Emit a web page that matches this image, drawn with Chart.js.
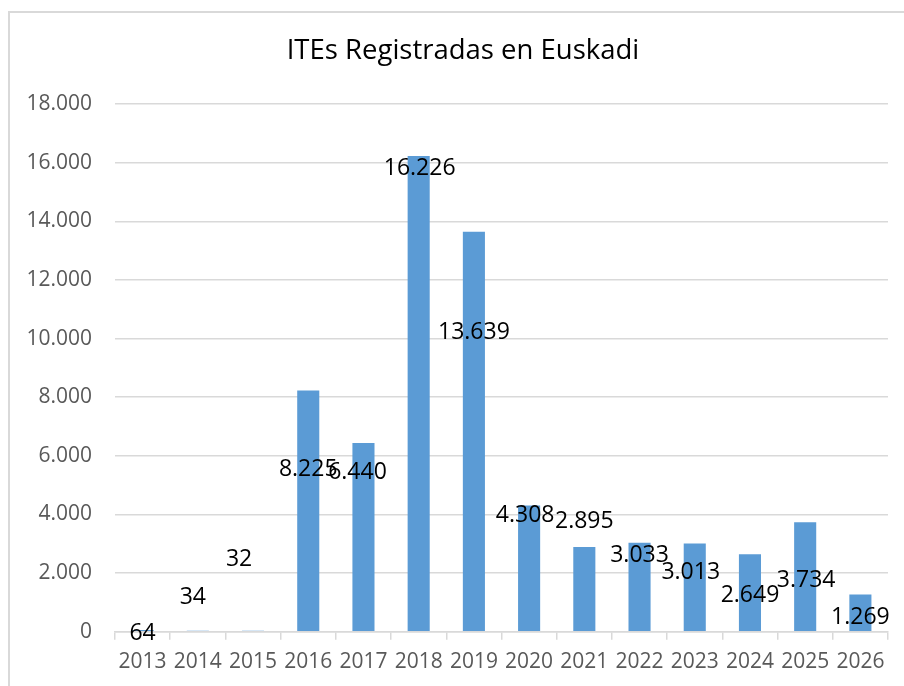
<!DOCTYPE html>
<html>
<head>
<meta charset="utf-8">
<title>ITEs Registradas en Euskadi</title>
<script src="https://cdn.jsdelivr.net/npm/chart.js@4"></script>
<style>
  html, body { margin: 0; padding: 0; background: #fff; }
  #wrap { position: relative; width: 904px; height: 686px; overflow: hidden; }
  #frame { position: absolute; left: 8px; top: 11px; width: 1000px; height: 1000px;
           border-left: 2px solid #d9d9d9; border-top: 2px solid #d9d9d9; }
  canvas { position: absolute; left: 0; top: 0; }
</style>
</head>
<body>
<div id="wrap">
  <div id="frame"></div>
  <canvas id="chart" width="904" height="686"></canvas>
</div>
<script>
const years = ['2013', '2014', '2015', '2016', '2017', '2018', '2019',
               '2020', '2021', '2022', '2023', '2024', '2025', '2026'];
const ites = [64, 34, 32, 8225, 6440, 16226, 13639, 4308, 2895, 3033, 3013, 2649, 3734, 1269];
const yTicks = [0, 2000, 4000, 6000, 8000, 10000, 12000, 14000, 16000, 18000];

// the value labels were dragged around by hand in the original, so keep
// where each one sits (in axis units) and a small sideways nudge in px
const labelAt = [0, 1230, 2530, 5600, 5500, 15850, 10250, 4030, 3825, 2665, 2085, 1300, 1810, 545];
const labelShift = [0, -5, -14, 0, -6, 1, 0, -4, 0, 0, -4, 0, 1, 0];

const FONT = '"Open Sans", sans-serif';
Chart.defaults.font.family = FONT;

// 16226 -> "16.226"
function fmt(v) {
    return String(v).replace(/\B(?=(\d{3})+(?!\d))/g, '.');
}

const valueLabels = {
    id: 'valueLabels',
    afterLayout(chart) {
        // the original title sits a bit right of the canvas centre
        chart.titleBlock.left += 19;
        chart.titleBlock.right += 19;
    },
    afterDatasetsDraw(chart) {
        const ctx = chart.ctx;
        const yScale = chart.scales.y;
        const bars = chart.getDatasetMeta(0).data;
        ctx.save();
        ctx.font = '23px ' + FONT;
        ctx.fillStyle = '#000';
        ctx.textAlign = 'center';
        ctx.textBaseline = 'alphabetic';
        bars.forEach(function (bar, i) {
            const y = yScale.getPixelForValue(labelAt[i]);
            ctx.fillText(fmt(ites[i]), bar.x + labelShift[i], y + 8);
        });
        ctx.restore();
    }
};

new Chart(document.getElementById('chart').getContext('2d'), {
    type: 'bar',
    data: {
        labels: years,
        datasets: [{
            label: 'ITEs',
            data: ites,
            backgroundColor: '#5b9bd5',
            borderWidth: 0,
            barPercentage: 0.4,
            categoryPercentage: 1
        }]
    },
    options: {
        responsive: false,
        animation: false,
        layout: { padding: { left: 0, right: 16, top: 0, bottom: 1 } },
        plugins: {
            legend: { display: false },
            tooltip: { enabled: false },
            title: {
                display: true,
                text: 'ITEs Registradas en Euskadi',
                color: '#000',
                font: { size: 27.5, weight: 'normal', family: FONT },
                padding: { top: 35, bottom: 36 }
            }
        },
        scales: {
            x: {
                grid: {
                    offset: true,
                    drawOnChartArea: false,
                    drawTicks: true,
                    tickLength: 8,
                    color: '#d9d9d9',
                    lineWidth: 1.5
                },
                border: { display: true, color: '#d9d9d9', width: 1.5 },
                ticks: {
                    color: '#595959',
                    font: { size: 21 },
                    padding: 10,
                    maxRotation: 0,
                    autoSkip: false
                }
            },
            y: {
                min: 0,
                max: 18000,
                afterBuildTicks: function (scale) {
                    scale.ticks = yTicks.map(v => ({ value: v }));
                },
                afterFit: function (scale) {
                    scale.width = 115;
                },
                grid: { color: '#d9d9d9', lineWidth: 1.5, drawTicks: false },
                border: { display: false },
                ticks: {
                    color: '#595959',
                    font: { size: 21 },
                    padding: 23,
                    callback: v => fmt(v)
                }
            }
        }
    },
    plugins: [valueLabels]
});
</script>
</body>
</html>
